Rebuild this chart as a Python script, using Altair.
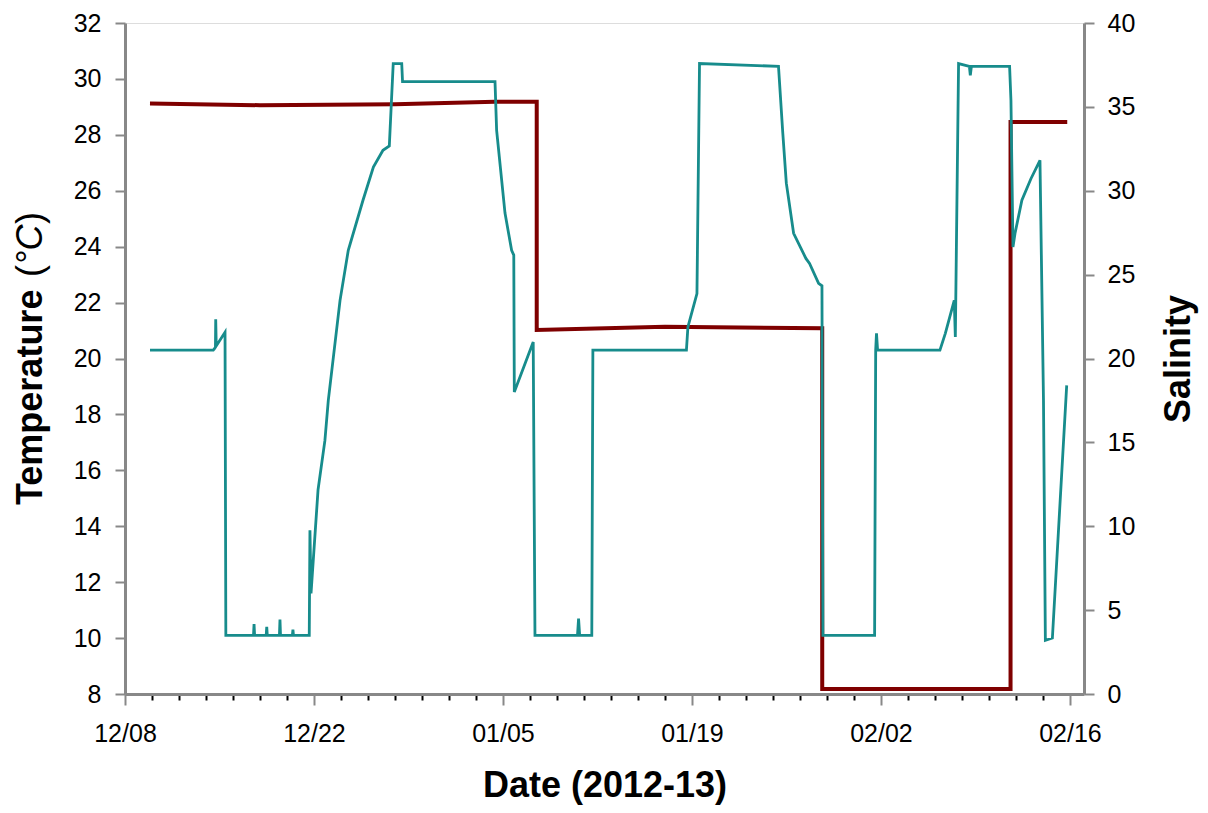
import altair as alt
import pandas as pd

# ---------------- data ----------------
BASE_DATE = "2012-12-08"  # day 0 of the offsets below

# temperature (°C) vs. days since 2012-12-08 00:00
temp_days = [1.85, 6.54, 6.70, 6.72, 6.76, 7.41, 7.47,
             9.52, 9.56, 9.60, 10.46, 10.50, 10.54, 11.44, 11.48, 11.52,
             12.40, 12.44, 12.48, 13.65, 13.70, 13.78,
             14.30, 14.81, 15.06, 15.93, 16.54, 17.63, 18.40, 19.11, 19.58,
             19.87, 20.50, 20.56, 27.41, 27.53, 28.15, 28.64, 28.80, 28.84,
             30.24, 30.37,
             33.52, 33.60, 33.68, 34.58, 34.66, 41.59, 41.70, 42.37, 42.56,
             48.41, 48.73, 48.99, 49.53, 50.44, 50.71, 51.38, 51.63, 51.70,
             55.53, 55.61, 55.67, 55.75, 60.37, 60.77, 61.43, 61.51, 61.75,
             62.55, 62.62, 62.70, 65.53, 65.63, 65.78, 65.93, 66.44, 67.11,
             67.78, 68.04, 68.18, 68.70, 69.76]
temp_vals = [20.3, 20.3, 20.4, 21.4, 20.45, 20.94, 10.1,
             10.1, 10.5, 10.1, 10.1, 10.4, 10.1, 10.1, 10.66, 10.1,
             10.1, 10.3, 10.1, 10.1, 13.86, 11.6,
             15.3, 17.07, 18.5, 22.08, 23.87, 25.66, 26.85, 27.45, 27.6,
             30.55, 30.55, 29.9, 29.9, 28.16, 25.2, 23.87, 23.7, 18.8,
             20.59, 10.1,
             10.1, 10.7, 10.1, 10.1, 20.3, 20.3, 21.13, 22.32, 30.55,
             30.45, 28.05, 26.27, 24.48, 23.58, 23.4, 22.69, 22.6, 10.1,
             10.1, 20.3, 20.9, 20.3, 20.3, 20.9, 22.08, 20.77, 30.55,
             30.45, 30.13, 30.45, 30.45, 29.24, 23.99, 24.47, 25.66, 26.43,
             27.09, 18.5, 9.92, 10.0, 19.04]

# salinity vs. days since 2012-12-08 00:00
sal_days = [1.85, 10.0, 20.0, 27.4, 30.5, 30.5, 40.0, 51.65, 51.65, 65.6, 65.6, 69.8]
sal_vals = [35.2, 35.1, 35.15, 35.3, 35.3, 21.7, 21.9, 21.8, 0.3, 0.3, 34.1, 34.1]

major_ticks = ["2012-12-08", "2012-12-22", "2013-01-05", "2013-01-19",
               "2013-02-02", "2013-02-16"]
minor_ticks = ["2012-12-10", "2012-12-12", "2012-12-14", "2012-12-16",
               "2012-12-18", "2012-12-20", "2012-12-24", "2012-12-26",
               "2012-12-28", "2012-12-30", "2013-01-01", "2013-01-03",
               "2013-01-07", "2013-01-09", "2013-01-11", "2013-01-13",
               "2013-01-15", "2013-01-17", "2013-01-21", "2013-01-23",
               "2013-01-25", "2013-01-27", "2013-01-29", "2013-01-31",
               "2013-02-04", "2013-02-06", "2013-02-08", "2013-02-10",
               "2013-02-12", "2013-02-14"]
x_domain = ["2012-12-08", "2013-02-17"]
temp_ticks = [8, 10, 12, 14, 16, 18, 20, 22, 24, 26, 28, 30, 32]
sal_ticks = [0, 5, 10, 15, 20, 25, 30, 35, 40]

# ---------------- styling ----------------
FONT = "Liberation Sans"
TEAL = "#178C8C"
RED = "#7F0000"
W, H = 959, 671


def dt(s, hours=0):
    y, m, d = map(int, s.split("-"))
    return alt.DateTime(year=y, month=m, date=d, hours=hours)


base = pd.Timestamp(BASE_DATE)
temp_df = pd.DataFrame({
    "date": base + pd.to_timedelta(temp_days, unit="D"),
    "temp": temp_vals,
    "i": list(range(len(temp_vals))),
})
sal_df = pd.DataFrame({
    "date": base + pd.to_timedelta(sal_days, unit="D"),
    "sal": sal_vals,
    "i": list(range(len(sal_vals))),
})

x_scale = alt.Scale(domain=[dt(x_domain[0]), dt(x_domain[1], hours=1)])

sal = alt.Chart(sal_df).mark_line(
    color=RED, strokeWidth=4, strokeJoin="miter", strokeCap="butt"
).encode(
    x=alt.X("date:T", scale=x_scale,
            axis=alt.Axis(orient="bottom", values=[dt(s) for s in minor_ticks],
                          labels=False, domain=False, grid=False, tickSize=6,
                          tickWidth=2, tickColor="black", title=None)),
    y=alt.Y("sal:Q", scale=alt.Scale(domain=[0, 40], nice=False, zero=False),
            axis=alt.Axis(orient="right", values=sal_ticks, title="Salinity",
                          tickSize=10, tickWidth=2, domainWidth=3,
                          labelFontSize=25, labelPadding=13,
                          titleFontSize=36, titleFontWeight="bold",
                          titleAngle=270, titleX=105, titleY=H / 2,
                          titleAlign="center", titleBaseline="alphabetic",
                          grid=False)),
    order="i:Q",
)

temp = alt.Chart(temp_df).mark_line(
    color=TEAL, strokeWidth=2.8, strokeJoin="miter"
).encode(
    x=alt.X("date:T", scale=x_scale,
            axis=alt.Axis(orient="bottom", values=[dt(s) for s in major_ticks],
                          format="%m/%d", title="Date (2012-13)",
                          tickSize=11, tickWidth=2, domainWidth=3,
                          labelFontSize=25, labelPadding=16, labelFlush=False,
                          labelOverlap=False,
                          titleFontSize=36, titleFontWeight="bold",
                          titleY=102, titleBaseline="alphabetic", grid=False)),
    y=alt.Y("temp:Q", scale=alt.Scale(domain=[8, 32], nice=False, zero=False),
            axis=alt.Axis(orient="left", values=temp_ticks, title=None,
                          tickSize=10, tickWidth=2, domainWidth=3,
                          labelFontSize=25, labelPadding=14, grid=False)),
    order="i:Q",
)

# left axis title with mixed styles: bold "Temperature", regular "(", italic "°C", regular ")"
title_parts = ["Temperature", "(", "°C", ")"]
part_style = [("bold", "normal", 482), ("normal", "normal", 254),
              ("normal", "italic", 242), ("normal", "normal", 201)]
texts = []
for txt, (fw, fs, yy) in zip(title_parts, part_style):
    texts.append(
        alt.Chart(pd.DataFrame({"t": [txt]})).mark_text(
            angle=270, align="left", baseline="alphabetic", font=FONT,
            fontSize=36, fontWeight=fw, fontStyle=fs, color="black"
        ).encode(x=alt.value(-83), y=alt.value(yy), text="t:N")
    )

chart = alt.layer(sal, temp, *texts).resolve_scale(
    y="independent"
).resolve_axis(
    x="independent", y="independent"
).properties(
    width=W, height=H, autosize="none",
    padding={"left": 117, "top": 15, "right": 116, "bottom": 111},
).configure_view(
    stroke="black", strokeWidth=3
).configure_axis(
    labelFont=FONT, titleFont=FONT, labelColor="black", titleColor="black",
    domainColor="black", tickColor="black"
).configure(background="white")

chart.save("out.html", embed_options={"renderer": "svg", "actions": False})
